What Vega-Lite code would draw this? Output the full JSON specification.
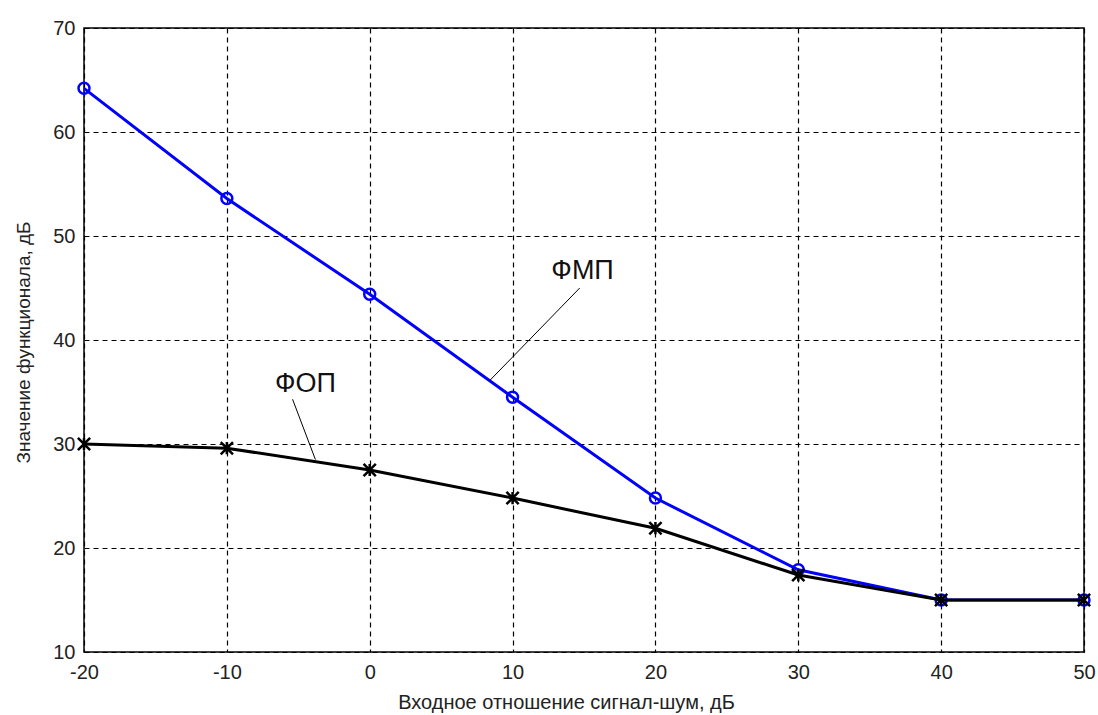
{
  "$schema": "https://vega.github.io/schema/vega-lite/v6.json",
  "width": 1000,
  "height": 624,
  "autosize": {"type": "none"},
  "padding": {"left": 84, "top": 28, "right": 14, "bottom": 63},
  "background": "white",
  "config": {
    "font": "Liberation Sans",
    "view": {"stroke": "black", "strokeWidth": 1.5},
    "axis": {
      "grid": true,
      "gridColor": "black",
      "gridDash": [5, 4],
      "gridWidth": 1.2,
      "gridOpacity": 1,
      "domain": false,
      "ticks": false,
      "labelFlush": false,
      "labelOverlap": false,
      "labelFont": "Liberation Sans",
      "labelFontSize": 20,
      "labelColor": "#222",
      "labelExpr": "datum.value < 0 ? '-' + abs(datum.value) : '' + datum.value",
      "titleFont": "Liberation Sans",
      "titleFontWeight": "normal",
      "titleColor": "#222"
    }
  },
  "datasets": {
    "curves": [
      {"snr": -20, "value": 64.2, "series": "ФМП"},
      {"snr": -10, "value": 53.6, "series": "ФМП"},
      {"snr": 0, "value": 44.4, "series": "ФМП"},
      {"snr": 10, "value": 34.5, "series": "ФМП"},
      {"snr": 20, "value": 24.8, "series": "ФМП"},
      {"snr": 30, "value": 17.9, "series": "ФМП"},
      {"snr": 40, "value": 15.0, "series": "ФМП"},
      {"snr": 50, "value": 15.0, "series": "ФМП"},
      {"snr": -20, "value": 30.0, "series": "ФОП"},
      {"snr": -10, "value": 29.6, "series": "ФОП"},
      {"snr": 0, "value": 27.5, "series": "ФОП"},
      {"snr": 10, "value": 24.8, "series": "ФОП"},
      {"snr": 20, "value": 21.9, "series": "ФОП"},
      {"snr": 30, "value": 17.4, "series": "ФОП"},
      {"snr": 40, "value": 15.0, "series": "ФОП"},
      {"snr": 50, "value": 15.0, "series": "ФОП"}
    ],
    "labels": [
      {"tx": 14.9, "ty": 46.6, "label": "ФМП", "x1": 14.7, "y1": 45.0, "x2": 8.4, "y2": 36.1},
      {"tx": -4.5, "ty": 35.8, "label": "ФОП", "x1": -5.4, "y1": 34.3, "x2": -3.8, "y2": 28.5}
    ]
  },
  "layer": [
    {
      "data": {"name": "curves"},
      "transform": [{"filter": "datum.series === 'ФМП'"}],
      "mark": {"type": "line", "color": "#0000ff", "strokeWidth": 3},
      "encoding": {
        "x": {"field": "snr", "type": "quantitative", "scale": {"domain": [-20, 50], "nice": false, "zero": false},
              "axis": {"values": [-20, -10, 0, 10, 20, 30, 40, 50], "title": "Входное отношение сигнал-шум, дБ", "titleFontSize": 20, "labelPadding": 10, "titleX": 482, "titleY": 50, "titleBaseline": "middle"}},
        "y": {"field": "value", "type": "quantitative", "scale": {"domain": [10, 70], "nice": false, "zero": false},
              "axis": {"values": [10, 20, 30, 40, 50, 60, 70], "title": "Значение функционала, дБ", "titleFontSize": 19, "labelPadding": 9, "titleX": -61, "titleY": 314, "titleBaseline": "middle"}}
      }
    },
    {
      "data": {"name": "curves"},
      "transform": [{"filter": "datum.series === 'ФМП'"}],
      "mark": {"type": "point", "shape": "circle", "filled": false, "color": "#0000ff", "size": 120, "strokeWidth": 2.5, "opacity": 1},
      "encoding": {
        "x": {"field": "snr", "type": "quantitative"},
        "y": {"field": "value", "type": "quantitative"}
      }
    },
    {
      "data": {"name": "curves"},
      "transform": [{"filter": "datum.series === 'ФОП'"}],
      "mark": {"type": "line", "color": "black", "strokeWidth": 3},
      "encoding": {
        "x": {"field": "snr", "type": "quantitative"},
        "y": {"field": "value", "type": "quantitative"}
      }
    },
    {
      "data": {"name": "curves"},
      "transform": [{"filter": "datum.series === 'ФОП'"}],
      "mark": {"type": "point", "shape": "M-1,-1L1,1M-1,1L1,-1M0,-1L0,1", "filled": false, "color": "black", "size": 150, "strokeWidth": 2.5, "opacity": 1},
      "encoding": {
        "x": {"field": "snr", "type": "quantitative"},
        "y": {"field": "value", "type": "quantitative"}
      }
    },
    {
      "data": {"name": "labels"},
      "mark": {"type": "rule", "color": "black", "strokeWidth": 1},
      "encoding": {
        "x": {"field": "x1", "type": "quantitative"},
        "y": {"field": "y1", "type": "quantitative"},
        "x2": {"field": "x2"},
        "y2": {"field": "y2"}
      }
    },
    {
      "data": {"name": "labels"},
      "mark": {"type": "text", "font": "Liberation Sans", "fontSize": 27, "color": "#111", "align": "center", "baseline": "middle"},
      "encoding": {
        "x": {"field": "tx", "type": "quantitative"},
        "y": {"field": "ty", "type": "quantitative"},
        "text": {"field": "label"}
      }
    }
  ]
}
